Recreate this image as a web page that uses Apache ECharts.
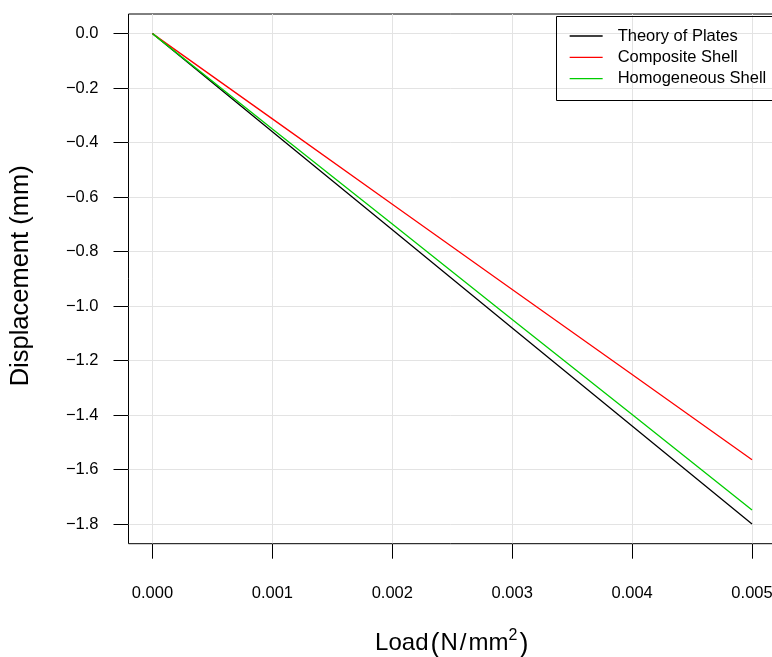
<!DOCTYPE html>
<html>
<head>
<meta charset="utf-8">
<script src="https://cdn.jsdelivr.net/npm/echarts@6/dist/echarts.min.js"></script>
<style>
html,body{margin:0;padding:0;background:#fff;}
#chart{width:772px;height:657px;}
</style>
</head>
<body>
<div id="chart"></div>
<script>
// Data
const loads = [0, 0.001, 0.002, 0.003, 0.004, 0.005];
const theoryOfPlates = [0, -0.36, -0.72, -1.08, -1.44, -1.80];
const compositeShell = [0, -0.313, -0.626, -0.939, -1.251, -1.564];
const homogeneousShell = [0, -0.35, -0.699, -1.049, -1.398, -1.748];
const xTicks = [0, 0.001, 0.002, 0.003, 0.004, 0.005];
const yTicks = [0, -0.2, -0.4, -0.6, -0.8, -1.0, -1.2, -1.4, -1.6, -1.8];
const seriesNames = ['Theory of Plates', 'Composite Shell', 'Homogeneous Shell'];

const FONT = '"Liberation Sans", Arial, Helvetica, sans-serif';
const chart = echarts.init(document.getElementById('chart'), null, {renderer: 'canvas'});

function pairs(xs, ys) { return xs.map((x, i) => [x, ys[i]]); }

const gridLeft = 128.5, gridTop = 14, gridW = 647.5, gridH = 529.7;

chart.setOption({
  animation: false,
  backgroundColor: '#ffffff',
  textStyle: {fontFamily: FONT},
  grid: {left: gridLeft, top: gridTop, width: gridW, height: gridH, show: true,
         borderColor: '#000', borderWidth: 1, backgroundColor: 'transparent',
         containLabel: false, outerBoundsMode: 'none'},
  xAxis: {
    type: 'value', min: -0.0002, max: 0.0052,
    axisLine: {show: false, onZero: false},
    axisTick: {show: true, length: 15, lineStyle: {color: '#000', width: 1}, customValues: xTicks},
    axisLabel: {customValues: xTicks, margin: 41, fontSize: 16.5, color: '#000', fontFamily: FONT,
                formatter: v => v.toFixed(3)},
    splitLine: {show: true, lineStyle: {color: '#e3e3e3', width: 1}},
    name: '{a|Load}{p|(}{a|N}{sl|/}{a|mm}{s|2}{p|)}',
    nameLocation: 'middle', nameGap: 82,
    nameTextStyle: {
      fontFamily: FONT, color: '#000',
      rich: {
        a: {fontSize: 24, fontFamily: FONT, color: '#000', verticalAlign: 'bottom', lineHeight: 30},
        sl: {fontSize: 24, fontFamily: FONT, color: '#000', verticalAlign: 'bottom', lineHeight: 30, padding: [0, 2, 0, 2]},
        p: {fontSize: 27, fontFamily: FONT, color: '#000', verticalAlign: 'bottom', lineHeight: 30, padding: [0, 1, -2, 2]},
        s: {fontSize: 16, fontFamily: FONT, color: '#000', verticalAlign: 'bottom', lineHeight: 30, padding: [0, 0, 12, 0]}
      }
    }
  },
  yAxis: {
    type: 'value', min: -1.872, max: 0.072,
    axisLine: {show: false, onZero: false},
    axisTick: {show: true, length: 15, lineStyle: {color: '#000', width: 1}, customValues: yTicks},
    axisLabel: {customValues: yTicks, margin: 30, fontSize: 16.5, color: '#000', fontFamily: FONT,
                formatter: v => { const s = Math.abs(v).toFixed(1); return v < -1e-9 ? '\u2212' + s : s; }},
    splitLine: {show: true, lineStyle: {color: '#e3e3e3', width: 1}},
    name: 'Displacement (mm)', nameLocation: 'middle', nameGap: 95, nameRotate: 90,
    nameTextStyle: {fontSize: 25.5, fontFamily: FONT, color: '#000', padding: [0, 0, 0, 6]}
  },
  legend: {
    show: true, orient: 'vertical', left: 569, top: 25.5, padding: 0,
    itemWidth: 33, itemHeight: 14, itemGap: 0.3,
    itemStyle: {opacity: 0},
    lineStyle: {width: 1.3},
    textStyle: {fontSize: 16.5, fontFamily: FONT, color: '#000', lineHeight: 21, padding: [0, 0, 0, 10]},
    data: seriesNames
  },
  graphic: [{
    type: 'rect', left: 554, top: 14, z: 100,
    shape: {x: 0, y: 0, width: 230, height: 84},
    style: {fill: 'none', stroke: '#000', lineWidth: 1}
  }],
  series: [
    {name: seriesNames[0], type: 'line', data: pairs(loads, theoryOfPlates), symbol: 'none',
     lineStyle: {color: '#000000', width: 1.3}, itemStyle: {color: '#000000'}},
    {name: seriesNames[1], type: 'line', data: pairs(loads, compositeShell), symbol: 'none',
     lineStyle: {color: '#ff0000', width: 1.3}, itemStyle: {color: '#ff0000'}},
    {name: seriesNames[2], type: 'line', data: pairs(loads, homogeneousShell), symbol: 'none',
     lineStyle: {color: '#00cd00', width: 1.3}, itemStyle: {color: '#00cd00'}}
  ]
});
</script>
</body>
</html>
